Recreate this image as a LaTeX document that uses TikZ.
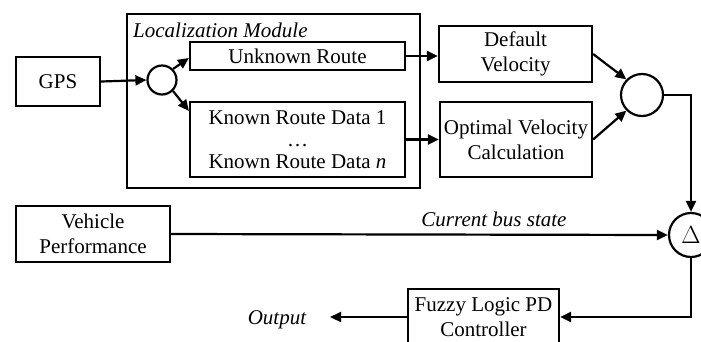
\documentclass[tikz,border=0pt]{standalone}
\usepackage{fontspec}
\setmainfont{Liberation Serif}
\usetikzlibrary{arrows.meta,calc}
\begin{document}
\begin{tikzpicture}[x=1pt,y=-1pt,
  font=\fontsize{21}{25}\selectfont,
  blk/.style={draw,line width=2.2pt,rectangle,inner sep=0pt,align=center},
  sum/.style={draw,line width=2.2pt,circle,inner sep=0pt},
  conn/.style={line width=2.2pt,-{Triangle[length=11pt,width=10pt]}},
  wire/.style={line width=2.2pt}]
\clip (0,0) rectangle (701,341);
\useasboundingbox (0,0) rectangle (701,341);

% input blocks
\node[blk,minimum width=84pt,minimum height=49pt] (gps) at (58,81.5) {GPS};
\node[blk,minimum width=154pt,minimum height=56pt] (veh) at (93,234) {Vehicle\\Performance};

% localization module
\node[blk,minimum width=293pt,minimum height=174pt] (loc) at (273.5,101) {};
\node[anchor=west,inner sep=0pt,font=\fontsize{21}{25}\selectfont\itshape] (loclbl) at (133,30) {Localization Module};
\node[sum,minimum size=29pt] (split) at (162,80) {};
\node[blk,minimum width=215pt,minimum height=28pt] (unk) at (297.5,56) {Unknown Route};
\node[blk,minimum width=215pt,minimum height=75pt,font=\fontsize{21}{22}\selectfont] (known) at (297.5,139.5) {Known Route Data 1\\\ldots\\Known Route Data \textit{n}};

% velocity blocks
\node[blk,minimum width=153pt,minimum height=56pt] (def) at (515.5,54) {Default\\Velocity};
\node[blk,minimum width=152pt,minimum height=75pt] (opt) at (516,139.5) {Optimal Velocity\\Calculation};
\node[sum,minimum size=42pt] (merge) at (642,95) {};

% comparison and controller
\node[sum,minimum size=44pt,font=\fontsize{25}{28}\selectfont] (delta) at (691,235) {$\Delta$};
\node[blk,minimum width=151pt,minimum height=56pt] (fuz) at (483.5,317) {Fuzzy Logic PD\\Controller};
\coordinate (out) at (330,317);
\node[inner sep=0pt,font=\fontsize{21}{25}\selectfont\itshape] (outlbl) at (277,320) {Output};

% connectors
\draw[conn] (gps.east) -- (split.west);
\draw[conn] (split.north east) -- ([yshift=-2pt]unk.west);
\draw[conn] (split.south east) -- ([yshift=-10pt]known.north west);
\draw[conn] (unk.east) -- (unk.east -| def.west);
\draw[conn] (known.east) -- (known.east -| opt.west);
\draw[conn] (def.east) -- (merge.north west);
\draw[conn] (opt.east) -- (merge.south west);
\draw[conn] (merge.east) -| (delta.north);
\draw[conn] (veh.east) -- (delta.west)
  node[pos=0.65,above=3pt,font=\fontsize{21}{25}\selectfont\itshape] (lblbus) {Current bus state};
\draw[conn] (delta.south) |- (fuz.east);
\draw[conn] (fuz.west) -- (out);
\end{tikzpicture}
\end{document}
